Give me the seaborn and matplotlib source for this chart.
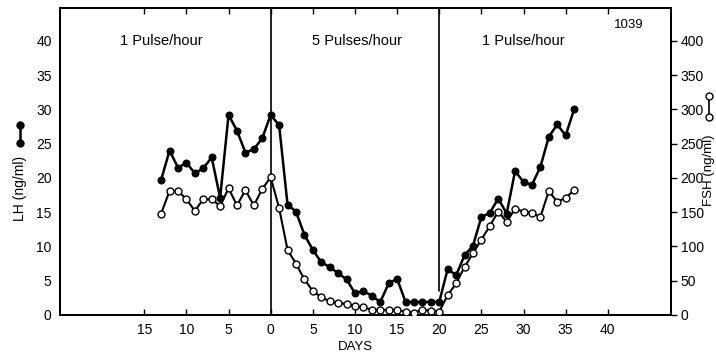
import matplotlib
matplotlib.use("Agg")
import matplotlib.pyplot as plt
from matplotlib.lines import Line2D
import pandas as pd
import seaborn as sns

# ---------------------------------------------------------------------------
# Data (days relative to start of 5 pulses/hour regimen)
# ---------------------------------------------------------------------------
days = list(range(-13, 37))

lh = [19.7, 24.0, 21.5, 22.2, 20.7, 21.4, 23.0, 17.1, 29.2, 26.9, 23.7, 24.2, 25.8,
      29.2, 27.7, 16.1, 15.1, 11.7, 9.5, 7.7, 7.0, 6.1, 5.2, 3.2, 3.5, 2.8, 1.9,
      4.6, 5.3, 1.9, 1.9, 1.9, 1.9, 1.9, 6.7, 5.8, 8.7, 10.1, 14.3, 14.9, 17.0,
      14.8, 21.0, 19.4, 19.0, 21.6, 26.0, 27.8, 26.2, 30.0]

fsh = [148, 181, 181, 169, 152, 169, 169, 159, 185, 160, 182, 160, 184,
       201, 156, 95, 75, 52, 35, 26, 20, 18, 16, 13, 11, 8, 7,
       8, 7, 5, 3, 8, 6, 5, 29, 46, 70, 90, 110, 130, 151,
       136, 155, 151, 149, 143, 181, 165, 171, 182]

x_ticks = list(range(-15, 45, 5))
x_tick_labels = [str(abs(t)) for t in x_ticks]
lh_ticks = list(range(0, 45, 5))
fsh_ticks = list(range(0, 450, 50))

phases = ["1 Pulse/hour", "5 Pulses/hour", "1 Pulse/hour"]
phase_x = [-13.0, 10.2, 30.0]
switch_days = [0, 20]

df = pd.DataFrame({"day": days, "lh": lh, "fsh": fsh})

sns.set_theme(style="ticks")
plt.rcParams["font.family"] = ["Liberation Sans", "DejaVu Sans"]
plt.rcParams["text.color"] = "black"
plt.rcParams["axes.labelcolor"] = "black"

fig = plt.figure(figsize=(7.16, 3.57), dpi=100)
ax = fig.add_axes([60 / 716, 42 / 357, 611 / 716, 307 / 357])
ax2 = ax.twinx()

# FSH (open circles) on the right-hand axis
sns.lineplot(data=df, x="day", y="fsh", ax=ax2, color="black", linewidth=1.5,
             marker="o", markersize=5, markerfacecolor="white",
             markeredgecolor="black", markeredgewidth=1.0, zorder=3)
# LH (filled circles) on the left-hand axis
sns.lineplot(data=df, x="day", y="lh", ax=ax, color="black", linewidth=1.8,
             marker="o", markersize=5, markerfacecolor="black",
             markeredgecolor="black", zorder=3)

ax.set_xlim(-25, 47.5)
ax.set_ylim(0, 44.8)
ax2.set_ylim(0, 448)

# regimen switch lines
ax.axvline(switch_days[0], color="black", linewidth=1.2, zorder=1)
ax.axvline(switch_days[1], ymin=3.5 / 44.8, ymax=1, color="black", linewidth=1.2, zorder=1)

ax.set_xticks(x_ticks)
ax.set_xticklabels(x_tick_labels)
ax.set_yticks(lh_ticks)
ax2.set_yticks(fsh_ticks)
ax.set_xlabel("")
ax.set_ylabel("")
ax2.set_ylabel("")

ax.tick_params(axis="x", direction="in", length=4, width=1.0, top=True,
               labelsize=10, pad=6, colors="black")
ax.tick_params(axis="y", length=0, labelsize=10, pad=6, colors="black")
ax2.tick_params(axis="y", direction="out", length=4, width=1.0, labelsize=10,
                pad=3, colors="black")

for a in (ax, ax2):
    for s in a.spines.values():
        s.set_visible(True)
        s.set_linewidth(1.4)
        s.set_color("black")

for label, xp in zip(phases, phase_x):
    ax.text(xp, 40, label, fontsize=10.5, ha="center", va="center", color="black")
ax.text(42.5, 42.3, "1039", fontsize=9.5, ha="center", va="center", color="black")

fig.text(355 / 716, 1 - 347 / 357, "DAYS", fontsize=9.5, ha="center", va="center",
         color="black")

# axis titles with their marker keys
fig.text(20 / 716, 1 - 188 / 357, "LH (ng/ml)", fontsize=10, rotation=90,
         ha="center", va="center", color="black")
fig.add_artist(Line2D([20 / 716, 20 / 716], [1 - 125 / 357, 1 - 143 / 357],
                      transform=fig.transFigure, color="black", linewidth=1.8,
                      marker="o", markersize=5))
fig.text(709 / 716, 1 - 170 / 357, "FSH (ng/ml)", fontsize=9.5, rotation=90,
         ha="center", va="center", color="black")
fig.add_artist(Line2D([709 / 716, 709 / 716], [1 - 96 / 357, 1 - 117 / 357],
                      transform=fig.transFigure, color="black", linewidth=1.2,
                      marker="o", markersize=5, markerfacecolor="white"))

fig.savefig("out.png", dpi=100)
